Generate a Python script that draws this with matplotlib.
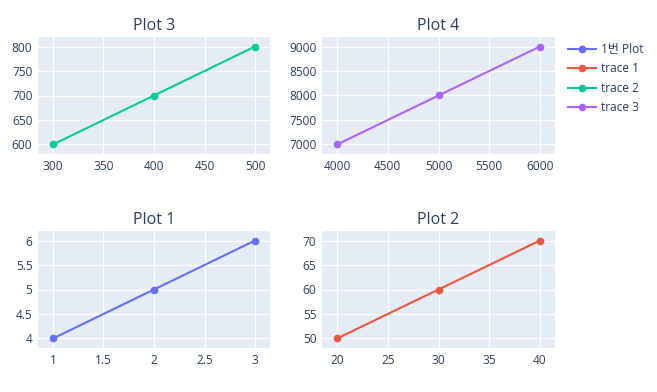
import matplotlib
matplotlib.use("Agg")
import matplotlib.pyplot as plt
from matplotlib.ticker import MultipleLocator, FormatStrFormatter

plt.rcParams['font.family'] = ['Open Sans', 'Noto Sans CJK KR', 'DejaVu Sans']

# ---- data ----
names = ["1번 Plot", "trace 1", "trace 2", "trace 3"]
titles = ["Plot 1", "Plot 2", "Plot 3", "Plot 4"]
x1 = [1, 2, 3]
y1 = [4, 5, 6]
x2 = [20, 30, 40]
y2 = [50, 60, 70]
x3 = [300, 400, 500]
y3 = [600, 700, 800]
x4 = [4000, 5000, 6000]
y4 = [7000, 8000, 9000]

colors = ["#636efa", "#EF553B", "#00cc96", "#ab63fa"]
xsteps = [0.5, 5, 50, 500]
ysteps = [0.5, 5, 50, 500]

W, H = 657, 392
fig = plt.figure(figsize=(W / 100, H / 100), dpi=100)


def box(l, t, r, b):
    return [l / W, 1 - b / H, (r - l) / W, (b - t) / H]


# bottom-left, bottom-right, top-left, top-right
rects = [box(38, 231, 270, 348), box(322, 231, 555, 348),
         box(38, 37, 270, 154), box(322, 37, 555, 154)]
xs = [x1, x2, x3, x4]
ys = [y1, y2, y3, y4]

text_col = "#2a3f5f"
handles = []
for i in range(4):
    ax = fig.add_axes(rects[i])
    ax.set_facecolor("#E5ECF6")
    line, = ax.plot(xs[i], ys[i], color=colors[i], lw=1.5, marker='o',
                    markersize=4.5, label=names[i], zorder=3)
    handles.append(line)
    ax.margins(x=0.074, y=0.097)
    ax.xaxis.set_major_locator(MultipleLocator(xsteps[i]))
    ax.yaxis.set_major_locator(MultipleLocator(ysteps[i]))
    ax.xaxis.set_major_formatter(FormatStrFormatter('%g'))
    ax.yaxis.set_major_formatter(FormatStrFormatter('%g'))
    ax.grid(True, color='white', lw=0.9)
    ax.set_axisbelow(True)
    for s in ax.spines.values():
        s.set_visible(False)
    ax.tick_params(length=0, labelsize=8.6, labelcolor=text_col, pad=4)
    ax.set_title(titles[i], fontsize=11.5, color=text_col, pad=5)

fig.legend(handles=handles, loc='upper left',
           bbox_to_anchor=(563 / W, 1 - 38 / H), frameon=False,
           fontsize=8.6, labelcolor=text_col, handlelength=2.4,
           handletextpad=0.4, labelspacing=0.55, borderaxespad=0)

plt.savefig("out.png", dpi=100, facecolor='white')
plt.close()
